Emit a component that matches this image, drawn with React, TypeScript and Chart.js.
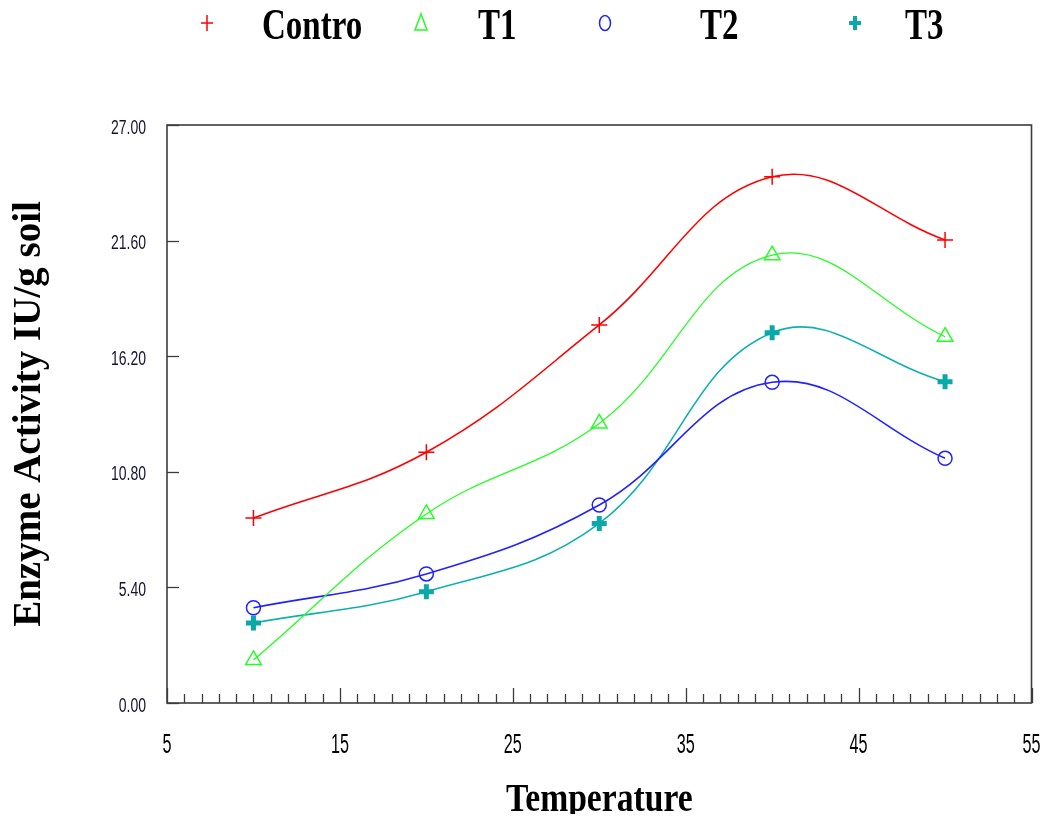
import React, { useEffect, useRef } from "react";
import { Chart, registerables } from "chart.js";

Chart.register(...registerables);

// ---- data ----
const temperatures = [10, 20, 30, 40, 50];
const controValues = [8.64, 11.71, 17.66, 24.58, 21.63];
const t1Values = [2.01, 8.83, 13.06, 20.92, 17.11];
const t2Values = [4.45, 6.03, 9.25, 14.98, 11.43];
const t3Values = [3.74, 5.2, 8.39, 17.3, 15.01];
const seriesLabels = ["Contro", "T1", "T2", "T3"];
const yTickValues = [0, 5.4, 10.8, 16.2, 21.6, 27];
const xTickValues = [5, 15, 25, 35, 45, 55];
const xMinorStep = 1;
const xTitle = "Temperature";
const yTitle = "Enzyme Activity IU/g soil";

const seriesColors = ["#ff0000", "#22ff22", "#2222ff", "#10b0b0"];
const seriesStyles = ["cross", "triangle", "circle", "cross"];

// legend layout (canvas coordinates)
const legendMarkerX = [199, 413, 597, 847];
const legendTextX = [254, 470, 692, 897];
const legendY = 15;

function toPoints(vals: number[]) {
  return temperatures.map((t, i) => ({ x: t, y: vals[i] }));
}

const decorPlugin = {
  id: "decor",
  afterDraw(chart: any) {
    const { ctx, chartArea: a, scales } = chart;
    const xs = scales.x;
    const ys = scales.y;
    ctx.save();
    // frame
    ctx.strokeStyle = "#3c3c3c";
    ctx.lineWidth = 1.6;
    ctx.strokeRect(a.left, a.top, a.right - a.left, a.bottom - a.top);
    // x ticks (inward)
    ctx.lineWidth = 1.3;
    const xmin = xTickValues[0];
    const xmax = xTickValues[xTickValues.length - 1];
    for (let v = xmin; v <= xmax + 1e-9; v += xMinorStep) {
      const px = Math.round(xs.getPixelForValue(v)) + 0.5;
      const major = xTickValues.indexOf(v) >= 0;
      ctx.beginPath();
      ctx.moveTo(px, a.bottom);
      ctx.lineTo(px, a.bottom - (major ? 15 : 9));
      ctx.stroke();
    }
    // y ticks (inward)
    for (const v of yTickValues) {
      const py = Math.round(ys.getPixelForValue(v)) + 0.5;
      ctx.beginPath();
      ctx.moveTo(a.left, py);
      ctx.lineTo(a.left + 12, py);
      ctx.stroke();
    }
    // y tick labels (narrow sans)
    ctx.fillStyle = "#14142e";
    ctx.textBaseline = "middle";
    ctx.textAlign = "right";
    for (const v of yTickValues) {
      const py = ys.getPixelForValue(v) + 3;
      ctx.save();
      ctx.translate(a.left - 21, py);
      ctx.scale(0.7, 1);
      ctx.font = "20px 'Liberation Sans', Arial, sans-serif";
      ctx.fillText(v.toFixed(2), 0, 0);
      ctx.restore();
    }
    // x tick labels
    ctx.fillStyle = "#000";
    ctx.textAlign = "center";
    for (const v of xTickValues) {
      const px = xs.getPixelForValue(v);
      ctx.save();
      ctx.translate(px, a.bottom + 43);
      ctx.scale(0.6, 1);
      ctx.font = "27px 'Liberation Sans', Arial, sans-serif";
      ctx.fillText(String(v), 0, 0);
      ctx.restore();
    }
    // x title (condensed bold serif)
    ctx.fillStyle = "#000";
    ctx.textAlign = "center";
    ctx.textBaseline = "alphabetic";
    ctx.save();
    ctx.translate((a.left + a.right) / 2, 803);
    ctx.scale(0.82, 1);
    ctx.font = "bold 41px 'Liberation Serif', 'Times New Roman', serif";
    ctx.fillText(xTitle, 0, 0);
    ctx.restore();

    // legend
    chart.data.datasets.forEach((ds: any, i: number) => {
      const mx = legendMarkerX[i];
      const my = legendY;
      const col = ds.pointBorderColor;
      ctx.strokeStyle = col;
      ctx.fillStyle = col;
      const style = ds.pointStyle;
      if (style === "cross") {
        const r = 6;
        ctx.lineWidth = i === 3 ? 4 : 1.5;
        ctx.beginPath();
        ctx.moveTo(mx - r, my);
        ctx.lineTo(mx + r, my);
        ctx.moveTo(mx, my - r - (i === 3 ? 1 : 2));
        ctx.lineTo(mx, my + r + (i === 3 ? 1 : 2));
        ctx.stroke();
      } else if (style === "triangle") {
        ctx.lineWidth = 1.5;
        ctx.beginPath();
        ctx.moveTo(mx, my - 9);
        ctx.lineTo(mx - 6, my + 7);
        ctx.lineTo(mx + 6, my + 7);
        ctx.closePath();
        ctx.stroke();
      } else {
        ctx.lineWidth = 1.5;
        ctx.beginPath();
        ctx.ellipse(mx, my, 5.5, 7.5, 0, 0, Math.PI * 2);
        ctx.stroke();
      }
      ctx.save();
      ctx.fillStyle = "#000";
      ctx.textAlign = "left";
      ctx.translate(legendTextX[i], 31);
      ctx.scale(0.75, 1);
      ctx.font = "bold 44px 'Liberation Serif', 'Times New Roman', serif";
      ctx.fillText(ds.label, 0, 0);
      ctx.restore();
    });
    ctx.restore();
  },
};

export default function App() {
  const ref = useRef<HTMLCanvasElement | null>(null);
  useEffect(() => {
    if (!ref.current) return;
    const allValues = [controValues, t1Values, t2Values, t3Values];
    const chart = new Chart(ref.current, {
      type: "scatter",
      data: {
        datasets: allValues.map((vals, i) => ({
          label: seriesLabels[i],
          data: toPoints(vals),
          showLine: true,
          tension: 0.4,
          borderColor: seriesColors[i],
          borderWidth: i === 1 ? 1.3 : 1.6,
          backgroundColor: "transparent",
          pointStyle: seriesStyles[i] as any,
          pointRadius: i === 3 ? 7.5 : i === 1 ? 9 : i === 0 ? 8 : 7,
          pointBorderColor: i === 3 ? "#0aa8a8" : seriesColors[i],
          pointBackgroundColor: "transparent",
          pointBorderWidth: i === 3 ? 5 : 1.5,
          fill: false,
        })),
      },
      options: {
        animation: false,
        responsive: false,
        layout: { padding: { top: 117, right: 9, left: 0, bottom: 0 } },
        plugins: {
          legend: { display: false },
          tooltip: { enabled: false },
        },
        scales: {
          x: {
            type: "linear",
            min: xTickValues[0],
            max: xTickValues[xTickValues.length - 1],
            afterBuildTicks: (s: any) => {
              s.ticks = xTickValues.map((v) => ({ value: v }));
            },
            afterFit: (s: any) => {
              s.height = 111;
            },
            grid: { display: false, drawTicks: false },
            border: { display: false },
            ticks: { display: false },
          },
          y: {
            type: "linear",
            min: yTickValues[0],
            max: yTickValues[yTickValues.length - 1],
            afterBuildTicks: (s: any) => {
              s.ticks = yTickValues.map((v) => ({ value: v }));
            },
            afterFit: (s: any) => {
              s.width = 159;
            },
            grid: { display: false, drawTicks: false },
            border: { display: false },
            title: {
              display: true,
              text: yTitle,
              color: "#000",
              padding: 0,
              font: { family: "'Liberation Serif', 'Times New Roman', serif", size: 39, weight: "bold", lineHeight: 1.1 },
            },
            ticks: { display: false },
          },
        },
      },
      plugins: [decorPlugin],
    });
    return () => chart.destroy();
  }, []);
  return <canvas ref={ref} width={1036} height={806} style={{ display: "block" }} />;
}
